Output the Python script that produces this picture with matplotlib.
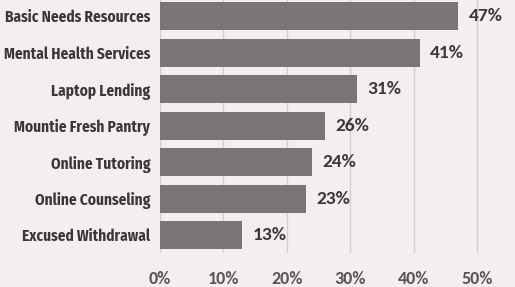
import matplotlib

matplotlib.use("Agg")
import matplotlib.pyplot as plt
from matplotlib.ticker import FuncFormatter

categories = [
    "Basic Needs Resources",
    "Mental Health Services",
    "Laptop Lending",
    "Mountie Fresh Pantry",
    "Online Tutoring",
    "Online Counseling",
    "Excused Withdrawal",
]
values = [47, 41, 31, 26, 24, 23, 13]
xticks = [0, 10, 20, 30, 40, 50]

BG = "#f4efef"
BAR = "#7a7474"
TXT = "#3b3737"

fig = plt.figure(figsize=(5.15, 2.87), dpi=100, facecolor=BG)
ax = fig.add_axes([160 / 515, 1 - 253 / 287, 349 / 515, 253 / 287], facecolor=BG)

y = list(range(len(categories)))
ax.barh(y, values, height=0.77, color=BAR, zorder=3)
for yi, v in zip(y, values):
    ax.text(v + 1.6, yi, f"{v}%", va="center", ha="left", fontsize=14,
            fontweight="bold", family="Carlito", color=TXT, zorder=4)

ax.set_xlim(0, 55)
ax.set_ylim(6.49, -0.44)
ax.set_yticks(y)
ax.set_yticklabels(categories, family="Fira Sans Condensed", fontweight="bold",
                   fontsize=11, color=TXT)
ax.set_xticks(xticks)
ax.xaxis.set_major_formatter(FuncFormatter(lambda v, p: f"{v:.0f}%"))
for lab in ax.get_xticklabels():
    lab.set_family("Carlito")
    lab.set_fontweight("bold")
    lab.set_fontsize(13)
    lab.set_color("#5a5454")
ax.tick_params(axis="both", length=0)
ax.tick_params(axis="y", pad=7)
ax.tick_params(axis="x", pad=13)
ax.grid(True, axis="x", color="#d3cece", lw=1.0, zorder=0)
for s in ax.spines.values():
    s.set_visible(False)

fig.savefig("out.png", dpi=100, facecolor=BG)
